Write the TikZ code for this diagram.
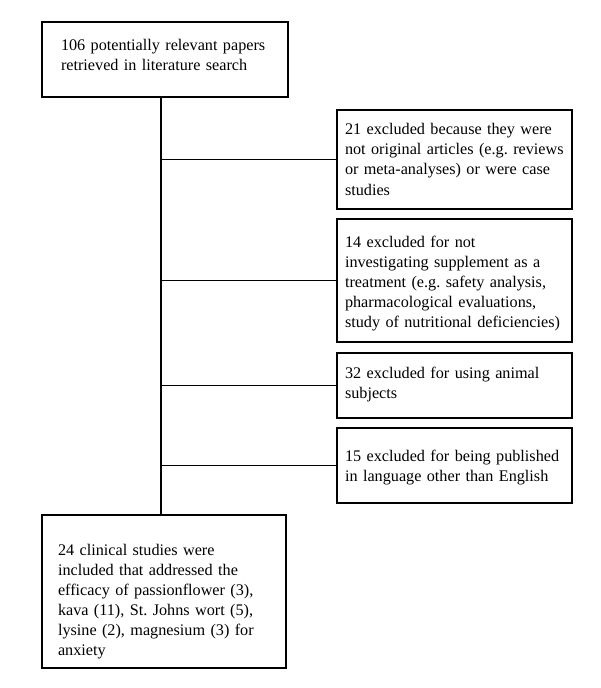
\documentclass[tikz,border=0pt]{standalone}
\usepackage{fontspec}
\setmainfont{Liberation Serif}
\usetikzlibrary{positioning}
\frenchspacing
\hyphenpenalty=10000
\begin{document}
\begin{tikzpicture}[x=0.75pt, y=-0.75pt]
    \tikzstyle{box} = [rectangle, draw=black, line width=0.9pt, inner ysep=0pt, outer sep=0pt, align=left, font=\fontsize{12.15}{15}\selectfont]
    \tikzstyle{side} = [box, inner xsep=3pt, text width=170.25pt, execute at begin node={\leftskip=3pt}]
    \tikzstyle{line} = [line width=0.9pt]

    \useasboundingbox (0,0) rectangle (600,688);

    \node (search) [box, anchor=north west, inner xsep=12pt, text width=160.5pt, execute at begin node={\leftskip=2.25pt}, text height=21.75pt, text depth=34.5pt] at (42,22) {106 potentially relevant papers\\retrieved in literature search};
    \node (ex1) [side, below right=9.75pt and 36.75pt of search, text height=18.75pt, text depth=55.5pt] {21 excluded because they were\\not original articles (e.g. reviews\\or meta-analyses) or were case\\studies};
    \node (ex2) [side, below=7.5pt of ex1, text height=21pt, text depth=71.25pt] {14 excluded for not\\investigating supplement as a\\treatment (e.g. safety analysis,\\pharmacological evaluations,\\study of nutritional deficiencies)};
    \node (ex3) [side, below=8.25pt of ex2, text height=18.75pt, text depth=30pt] {32 excluded for using animal\\subjects};
    \node (ex4) [side, below=7.5pt of ex3, text height=24.75pt, text depth=31.5pt] {15 excluded for being published\\in language other than English};
    \node (incl) [box, below=313.5pt of search.south west, anchor=north west, inner xsep=12pt, text width=159pt, text height=30pt, text depth=84.75pt] {24 clinical studies were\\included that addressed the\\efficacy of passionflower (3),\\kava (11), St. Johns wort (5),\\lysine (2), magnesium (3) for\\anxiety};

    \coordinate (spine) at (161,0);

    \draw[line] (search.south -| spine) -- (incl.north -| spine);
    \draw[line] (spine |- ex1.west) -- (ex1.west);
    \draw[line] (spine |- ex2.west) -- (ex2.west);
    \draw[line] (spine |- ex3.west) -- (ex3.west);
    \draw[line] (spine |- ex4.west) -- (ex4.west);
\end{tikzpicture}
\end{document}
